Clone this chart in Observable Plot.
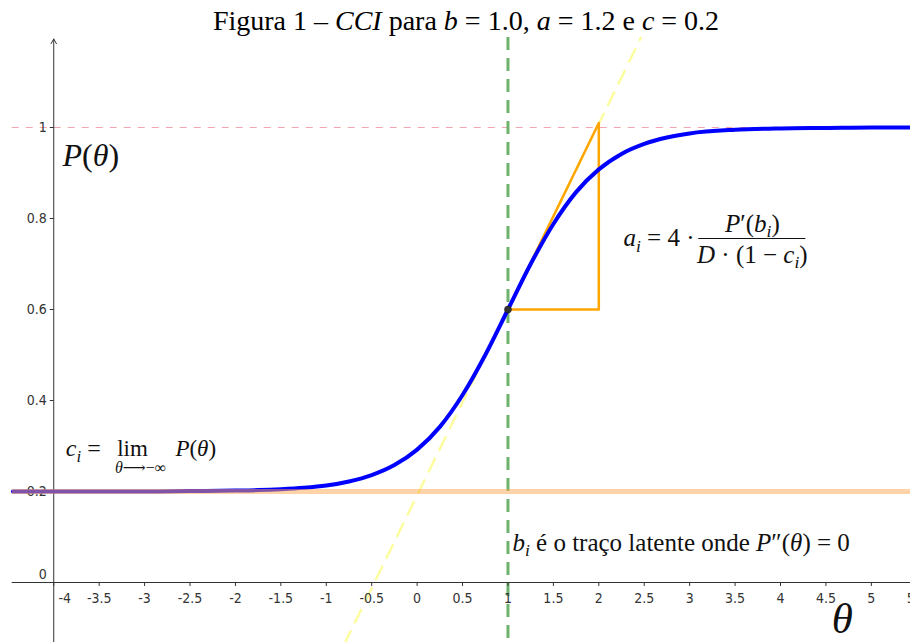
<!DOCTYPE html>
<html><head><meta charset="utf-8">
<script src="https://cdn.jsdelivr.net/npm/d3@7"></script>
<script src="https://cdn.jsdelivr.net/npm/@observablehq/plot@0.6"></script>
<style>
html,body{margin:0;padding:0;background:#fff;}
#title{width:910px;height:37px;box-sizing:border-box;padding-top:5px;padding-left:22px;text-align:center;font-family:"Liberation Serif",serif;font-size:28px;line-height:32px;color:#000;white-space:nowrap;}
#title i{font-style:italic}
</style></head><body>
<div id="title">Figura 1 – <i>CCI</i> para <i>b</i> = 1.0, <i>a</i> = 1.2 e <i>c</i> = 0.2</div>
<div id="chart"></div>
<script>
// ---- data ----
const theta = [-4.45, -4, -3.5, -3, -2.5, -2, -1.75, -1.5, -1.25, -1, -0.75, -0.5, -0.25, 0, 0.25, 0.5, 0.75, 1, 1.25, 1.5, 1.75, 2, 2.25, 2.5, 2.75, 3, 3.5, 4, 4.5, 5, 5.45];
const prob  = [0.200, 0.200, 0.200, 0.200, 0.201, 0.202, 0.203, 0.205, 0.208, 0.213, 0.222, 0.236, 0.258, 0.292, 0.342, 0.412, 0.500, 0.600, 0.700, 0.788, 0.858, 0.908, 0.942, 0.964, 0.978, 0.987, 0.995, 0.998, 0.999, 1.000, 1.000];
const tangentTheta = [-0.8, 2.47];
const tangentP = [-0.135, 1.2];
const triangleTheta = [1, 2, 2, 1];
const triangleP = [0.6, 1.01, 0.6, 0.6];
const bValue = 1;
const pAtB = 0.6;
const cValue = 0.2;
const upperValue = 1;
const xTicks = [-4, -3.5, -3, -2.5, -2, -1.5, -1, -0.5, 0, 0.5, 1, 1.5, 2, 2.5, 3, 3.5, 4, 4.5, 5, 5.5];
const xTickLabels = ["-4", "-3.5", "-3", "-2.5", "-2", "-1.5", "-1", "-0.5", "0", "0.5", "1", "1.5", "2", "2.5", "3", "3.5", "4", "4.5", "5", "5.5"];
const yTicks = [0.2, 0.4, 0.6, 0.8, 1];
const yTickLabels = ["0.2", "0.4", "0.6", "0.8", "1"];
const yZeroLabel = "0";

// ---- layout ----
const W = 910, H = 605;
const xDomain = [-4.586, 5.431];
const yDomain = [-0.1319, 1.1978];
const axisX = -4;          // y-axis sits at theta = -4
const lineStart = -4.457;  // left end of horizontal lines
const pxX = (xDomain[1] - xDomain[0]) / W;
const pxY = (yDomain[1] - yDomain[0]) / H;

// annotations (data units)
const notes = [
  {key: "P(θ)#1", x: -3.904, y: 0.916, size: 32, anchor: "start"},
  {key: "a_i = 4 ·", x: 2.271, y: 0.7385, size: 25, anchor: "start"},
  {key: "P′(b_i)", x: 3.69, y: 0.771, size: 25, anchor: "middle"},
  {key: "D · (1 − c_i)", x: 3.69, y: 0.703, size: 25, anchor: "middle"},
  {key: "c_i =", x: -3.867, y: 0.277, size: 24, anchor: "start"},
  {key: "lim", x: -3.133, y: 0.277, size: 23, anchor: "middle"},
  {key: "θ⟶−∞", x: -3.045, y: 0.2396, size: 16, anchor: "middle"},
  {key: "P(θ)#2", x: -2.661, y: 0.277, size: 23, anchor: "start"},
  {key: "b_i é o traço latente onde P″(θ) = 0", x: 1.049, y: 0.0703, size: 25, anchor: "start"},
  {key: "θ#big", x: 4.68, y: -0.112, size: 43, anchor: "middle"}
];
const fraction = {x1: 3.1, x2: 4.28, y: 0.756};

// rich-text parts: [text, style] style: n normal, i italic, s subscript
const richParts = {
  "P(θ)#1": [["P","i"],["(","n"],["θ","i"],[")","n"]],
  "P(θ)#2": [["P","i"],["(","n"],["θ","i"],[")","n"]],
  "a_i = 4 ·": [["a","i"],["i","s"],[" = 4 · ","n"]],
  "P′(b_i)": [["P","i"],["′(","n"],["b","i"],["i","s"],[")","n"]],
  "D · (1 − c_i)": [["D","i"],[" · (1 − ","n"],["c","i"],["i","s"],[")","n"]],
  "c_i =": [["c","i"],["i","s"],[" =","n"]],
  "lim": [["lim","n"]],
  "θ⟶−∞": [["θ","i"],["⟶−∞","n"]],
  "b_i é o traço latente onde P″(θ) = 0": [["b","i"],["i","s"],[" é o traço latente onde ","n"],["P","i"],["″(","n"],["θ","i"],[") = 0","n"]],
  "θ#big": [["θ","i"]]
};
function esc(s){return s.replace(/&/g,"&amp;").replace(/</g,"&lt;");}
function rich(parts){
  let out = "", inSub = false;
  for (const [t, st] of parts) {
    if (st === "s") { out += `<tspan font-style="italic" font-size="70%" dy="0.314em">${esc(t)}</tspan>`; inSub = true; }
    else {
      const dy = inSub ? ` dy="-0.22em"` : "";
      inSub = false;
      out += `<tspan${st === "i" ? ' font-style="italic"' : ""}${dy}>${esc(t)}</tspan>`;
    }
  }
  return out;
}

const curve = theta.map((t, i) => ({t, p: prob[i]}));
const tangent = tangentTheta.map((t, i) => ({t, p: tangentP[i]}));
const triangle = triangleTheta.map((t, i) => ({t, p: triangleP[i]}));
const xt = xTicks.map((v, i) => ({v, label: xTickLabels[i]}));
const yt = yTicks.map((v, i) => ({v, label: yTickLabels[i]}));

const tickFont = '"Liberation Sans Narrow", "DejaVu Sans Condensed", "Arial Narrow", sans-serif';
const mathFont = '"Liberation Serif", "DejaVu Serif", serif';

const textMarks = notes.map(n => Plot.text([n], {
  x: "x", y: "y", text: d => d.key, textAnchor: n.anchor, lineAnchor: "bottom",
  fontSize: n.size, fontFamily: mathFont, fill: "#111"
}));

const chart = Plot.plot({
  width: W, height: H,
  marginTop: 0, marginRight: 0, marginBottom: 0, marginLeft: 0,
  x: {domain: xDomain, axis: null},
  y: {domain: yDomain, axis: null},
  style: {background: "#fff"},
  marks: [
    // asymptote at 1
    Plot.ruleY([upperValue], {x1: lineStart, x2: xDomain[1], stroke: "#f2a6b0", strokeWidth: 1, strokeDasharray: "7,7"}),
    // tangent line
    Plot.line(tangent, {x: "t", y: "p", stroke: "#fdfda0", strokeWidth: 2.5, strokeDasharray: "14,10"}),
    // b line
    Plot.ruleX([bValue], {stroke: "#6db36d", strokeWidth: 3, strokeDasharray: "13,8"}),
    // axes
    Plot.ruleY([0], {x1: lineStart, x2: xDomain[1], stroke: "#333", strokeWidth: 1.2}),
    Plot.arrow([{a: 0}], {x1: axisX, x2: axisX, y1: yDomain[0], y2: yDomain[1] - 1.5 * pxY, stroke: "#333", strokeWidth: 1, headLength: 8}),
    Plot.ruleX(xt, {x: "v", y1: 0, y2: -4 * pxY, stroke: "#333", strokeWidth: 1}),
    Plot.link(yt, {x1: axisX, x2: axisX - 4 * pxX, y1: "v", y2: "v", stroke: "#333", strokeWidth: 1}),
    Plot.text(xt.filter(d => d.v !== axisX), {x: "v", y: 0, text: "label", lineAnchor: "top", dy: 11, fontSize: 14, fontFamily: tickFont, fill: "#333"}),
    Plot.text(xt.filter(d => d.v === axisX), {x: "v", y: 0, text: "label", lineAnchor: "top", dy: 11, dx: 11, fontSize: 14, fontFamily: tickFont, fill: "#333"}),
    Plot.text(yt, {x: axisX, y: "v", text: "label", textAnchor: "end", dx: -7, fontSize: 14, fontFamily: tickFont, fill: "#333"}),
    Plot.text([yZeroLabel], {x: axisX, y: 0, text: d => d, textAnchor: "end", dx: -7, dy: -8, fontSize: 14, fontFamily: tickFont, fill: "#333"}),
    // orange triangle
    Plot.line(triangle, {x: "t", y: "p", stroke: "#ffa500", strokeWidth: 2.5}),
    // ICC curve
    Plot.line(curve, {x: "t", y: "p", stroke: "#0000ff", strokeWidth: 4, curve: "monotone-x"}),
    // lower asymptote c
    Plot.ruleY([cValue], {x1: lineStart, x2: xDomain[1], stroke: "#ffa54f", strokeOpacity: 0.5, strokeWidth: 5}),
    // point at b
    Plot.dot([{t: bValue, p: pAtB}], {x: "t", y: "p", r: 3.5, fill: "#333", stroke: "#111", strokeWidth: 0.5}),
    // fraction bar
    Plot.ruleY([fraction.y], {x1: fraction.x1, x2: fraction.x2, stroke: "#111", strokeWidth: 1}),
    ...textMarks
  ]
});

d3.select(chart).selectAll("text").each(function() {
  const k = this.textContent;
  if (richParts[k]) this.innerHTML = rich(richParts[k]);
});
document.getElementById("chart").appendChild(chart);
</script>
</body></html>
